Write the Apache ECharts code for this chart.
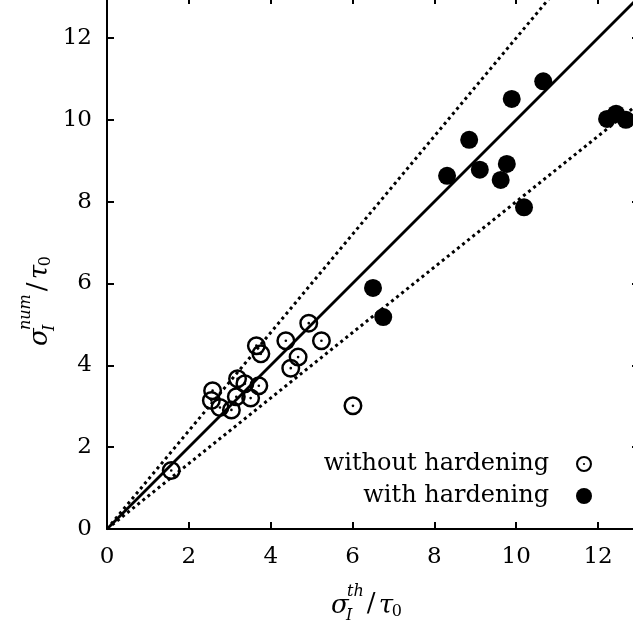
<!DOCTYPE html>
<html><head><meta charset="utf-8">
<script src="https://cdn.jsdelivr.net/npm/echarts@6/dist/echarts.min.js"></script>
<style>html,body{margin:0;padding:0;background:#fff}#c{width:633px;height:624px}</style>
</head><body><div id="c"></div>
<script>
// ---- data ----
const seriesNames = ['without hardening', 'with hardening'];
const withoutX = [1.57, 2.58, 2.55, 2.76, 3.04, 3.19, 3.37, 3.16, 3.51, 3.71, 3.65, 3.76, 4.37, 4.67, 4.49, 4.93, 5.24, 6.01];
const withoutY = [1.43, 3.38, 3.14, 2.97, 2.91, 3.67, 3.55, 3.23, 3.20, 3.50, 4.48, 4.28, 4.60, 4.20, 3.93, 5.03, 4.60, 3.01];
const withX = [6.50, 6.75, 8.31, 8.85, 9.11, 9.62, 9.77, 9.89, 10.19, 10.66, 12.22, 12.44, 12.68];
const withY = [5.89, 5.18, 8.63, 9.51, 8.78, 8.53, 8.92, 10.51, 7.86, 10.94, 10.02, 10.15, 10.00];
const refX = [0, 13];
const parityY = [0, 13];
const upperY = [0, 15.6];   // y = 1.2 x
const lowerY = [0, 10.4];   // y = 0.8 x
const axisMin = 0, axisMax = 13, tickStep = 2;

// ---- chart ----
const FONT = 'DejaVu Serif';
const openSym = 'path://M10,0 A10,10 0 1,1 10,20 A10,10 0 1,1 10,0 Z M10,2.6 A7.4,7.4 0 1,0 10,17.4 A7.4,7.4 0 1,0 10,2.6 Z M10,8.6 A1.4,1.4 0 1,1 10,11.4 A1.4,1.4 0 1,1 10,8.6 Z';

const zip = (xs, ys) => xs.map((x, i) => [x, ys[i]]);

const ctx = document.createElement('canvas').getContext('2d');
function tw(t, size, italic) {
  ctx.font = (italic ? 'italic ' : '') + size + 'px "' + FONT + '"';
  return ctx.measureText(t).width;
}
function T(t, x, y, size, italic) {
  return { type: 'text', x: x, y: y, silent: true,
    style: { text: t, fill: '#000', fontFamily: FONT, fontSize: size,
      fontStyle: italic ? 'italic' : 'normal', align: 'left', verticalAlign: 'middle' } };
}
function mathTitle(sup) {
  const big = 26, small = 16;
  const supX = 16;
  const supW = tw(sup, small, true);
  const slashX = supX + supW + 3;
  const tauX = slashX + 12;
  const zeroX = tauX + 13;
  return [
    T('σ', 0, 0, big, true),
    T(sup, supX, -14, small, true),
    T('I', supX - 1, 10, small, true),
    T('/', slashX, -2, big, false),
    T('τ', tauX, 0, big, true),
    T('0', zeroX, 6, small, false)
  ];
}

const chart = echarts.init(document.getElementById('c'), null, { renderer: 'canvas' });
const axisCommon = {
  type: 'value', min: axisMin, max: axisMax, interval: tickStep,
  axisLine: { show: true, onZero: false, lineStyle: { color: '#000', width: 2 } },
  axisTick: { show: true, inside: true, length: 7, lineStyle: { color: '#000', width: 2 } },
  splitLine: { show: false }
};
const labelCommon = { color: '#000', fontFamily: FONT, fontSize: 23, showMaxLabel: false };

chart.setOption({
  animation: false,
  backgroundColor: '#fff',
  grid: { left: 107, top: -3, width: 532, height: 532, containLabel: false, outerBoundsMode: 'none' },
  xAxis: [
    Object.assign({}, axisCommon, { position: 'bottom', axisLabel: Object.assign({ margin: 17 }, labelCommon) }),
    Object.assign({}, axisCommon, { position: 'top', axisLabel: { show: false } })
  ],
  yAxis: [
    Object.assign({}, axisCommon, { position: 'left', axisLabel: Object.assign({ margin: 15 }, labelCommon) }),
    Object.assign({}, axisCommon, { position: 'right', axisLabel: { show: false } })
  ],
  legend: {
    orient: 'vertical', align: 'right', right: 41, top: 452, padding: 0,
    itemWidth: 16, itemHeight: 16, itemGap: 8,
    data: seriesNames,
    textStyle: { color: '#000', fontFamily: FONT, fontSize: 24, padding: [0, 22, 0, 0] }
  },
  series: [
    { type: 'line', data: zip(refX, parityY), symbol: 'none', silent: true, clip: true,
      lineStyle: { color: '#000', width: 2.8 }, z: 1 },
    { type: 'line', data: zip(refX, upperY), symbol: 'none', silent: true, clip: true,
      lineStyle: { color: '#000', width: 3, type: [3, 3.5] }, z: 1 },
    { type: 'line', data: zip(refX, lowerY), symbol: 'none', silent: true, clip: true,
      lineStyle: { color: '#000', width: 3, type: [3, 3.5] }, z: 1 },
    { name: seriesNames[0], type: 'scatter', data: zip(withoutX, withoutY),
      symbol: openSym, symbolSize: 19, itemStyle: { color: '#000', opacity: 1 }, z: 3 },
    { name: seriesNames[1], type: 'scatter', data: zip(withX, withY),
      symbol: 'circle', symbolSize: 18, itemStyle: { color: '#000', opacity: 1 }, z: 3 }
  ],
  graphic: [
    { type: 'group', x: 331, y: 606, children: mathTitle('th') },
    { type: 'group', x: 40, y: 346, rotation: Math.PI / 2, children: mathTitle('num') }
  ]
});
</script>
</body></html>
